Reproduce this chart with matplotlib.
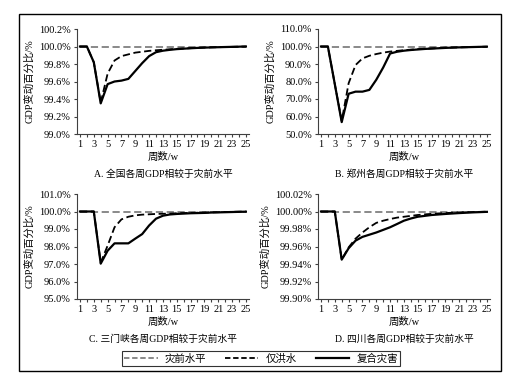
import numpy as np
import matplotlib
matplotlib.use("Agg")
import matplotlib.pyplot as plt
from matplotlib.lines import Line2D
from matplotlib.patches import Rectangle
from matplotlib.ticker import FuncFormatter

plt.rcParams['font.family'] = ['Liberation Serif', 'Noto Sans CJK SC']

weeks = np.arange(1, 26)
baseline = [100.0] * 25

# A. 全国
a_flood = [100, 100, 99.82, 99.36, 99.69, 99.84, 99.89, 99.91, 99.93, 99.94,
           99.95, 99.957, 99.963, 99.968, 99.973, 99.977, 99.981, 99.985, 99.988, 99.99,
           99.992, 99.994, 99.996, 99.998, 100.0]
a_compound = [100, 100, 99.82, 99.35, 99.57, 99.6, 99.61, 99.63, 99.72, 99.81,
              99.89, 99.935, 99.952, 99.962, 99.97, 99.975, 99.98, 99.984, 99.987, 99.99,
              99.992, 99.994, 99.996, 99.998, 100.0]
# B. 郑州
b_flood = [100, 100, 78.5, 57.5, 79.0, 89.4, 93.2, 94.7, 95.7, 96.5,
           97.1, 97.5, 97.9, 98.2, 98.5, 98.7, 98.9, 99.1, 99.3, 99.4,
           99.5, 99.6, 99.7, 99.8, 99.9]
b_compound = [100, 100, 78.5, 56.8, 73.0, 74.2, 74.2, 75.2, 81.0, 88.0,
              96.0, 97.0, 97.6, 98.0, 98.3, 98.6, 98.8, 99.0, 99.2, 99.35,
              99.5, 99.6, 99.7, 99.8, 99.9]
# C. 三门峡
c_flood = [100, 100, 100, 97.08, 98.05, 99.1, 99.55, 99.7, 99.78, 99.82,
           99.84, 99.86, 99.87, 99.88, 99.9, 99.91, 99.92, 99.93, 99.94, 99.95,
           99.96, 99.97, 99.98, 99.99, 100.0]
c_compound = [100, 100, 100, 97.02, 97.76, 98.18, 98.18, 98.18, 98.45, 98.71,
              99.2, 99.59, 99.76, 99.83, 99.86, 99.88, 99.9, 99.91, 99.92, 99.94,
              99.95, 99.96, 99.97, 99.98, 99.99]
# D. 四川
d_flood = [100, 100, 100, 99.945, 99.959, 99.969, 99.976, 99.982, 99.987, 99.9895,
           99.9914, 99.993, 99.994, 99.995, 99.996, 99.9967, 99.9973, 99.9978, 99.9982, 99.9986,
           99.999, 99.9992, 99.9994, 99.9996, 99.9998]
d_compound = [100, 100, 100, 99.945, 99.958, 99.9667, 99.971, 99.9735, 99.976, 99.979,
              99.982, 99.9857, 99.9895, 99.992, 99.994, 99.995, 99.996, 99.9966, 99.9972, 99.9977,
              99.9982, 99.9986, 99.999, 99.9993, 99.9996]

panels = [
    ("A. 全国各周GDP相较于灾前水平", a_flood, a_compound, (99.0, 100.2), 0.2, 1),
    ("B. 郑州各周GDP相较于灾前水平", b_flood, b_compound, (50.0, 110.0), 10.0, 1),
    ("C. 三门峡各周GDP相较于灾前水平", c_flood, c_compound, (95.0, 101.0), 1.0, 1),
    ("D. 四川各周GDP相较于灾前水平", d_flood, d_compound, (99.90, 100.02), 0.02, 2),
]

W, H = 518, 379
fig = plt.figure(figsize=(W / 100, H / 100), dpi=100)

# pixel boxes (left, top, right, bottom)
boxes = [(77, 29, 249, 134), (318, 29, 490, 134),
         (77, 194, 249, 299), (318, 194, 490, 299)]

for (title, flood, comp, ylim, step, dec), (l, t, r, b) in zip(panels, boxes):
    ax = fig.add_axes([l / W, 1 - b / H, (r - l) / W, (b - t) / H])
    ax.plot(weeks, baseline, color='#808080', ls=(0, (4, 2)), lw=1.3)
    ax.plot(weeks, flood, color='black', ls=(0, (4, 2)), lw=1.3)
    ax.plot(weeks, comp, color='black', ls='-', lw=1.6)
    ax.set_xlim(0.57, 25.45)
    ax.set_ylim(*ylim)
    ax.set_yticks(np.arange(ylim[0], ylim[1] + step / 2, step))
    ax.yaxis.set_major_formatter(FuncFormatter(lambda v, p, d=dec: f"{v:.{d}f}%"))
    ax.set_xticks(np.arange(1, 26, 2))
    ax.set_xticks(np.arange(1, 26, 1), minor=True)
    for s in ['top', 'right']:
        ax.spines[s].set_visible(False)
    for s in ['left', 'bottom']:
        ax.spines[s].set_color('#404040')
        ax.spines[s].set_linewidth(0.8)
    ax.tick_params(axis='both', which='both', labelsize=7.5, length=2.5, width=0.8,
                   color='#404040', pad=2)
    ax.set_ylabel("GDP变动百分比/%", fontsize=7.5, labelpad=3)
    ax.set_xlabel("周数/w", fontsize=7.5, labelpad=2)
    ax.text(0.5, -0.38, title, transform=ax.transAxes, ha='center', va='center',
            fontsize=7)

handles = [Line2D([], [], color='#808080', ls=(0, (3, 1.5)), lw=1.3),
           Line2D([], [], color='black', ls=(0, (3, 1.5)), lw=1.3),
           Line2D([], [], color='black', ls='-', lw=1.6)]
leg = fig.legend(handles, ["灾前水平", "仅洪水", "复合灾害"], ncol=3,
                 loc='center', bbox_to_anchor=(261 / W, 1 - 358.5 / H),
                 fontsize=7.5, frameon=True, fancybox=False, edgecolor='black',
                 handlelength=3.2, columnspacing=1.8, borderpad=0.2,
                 handletextpad=0.7, borderaxespad=0)
leg.get_frame().set_linewidth(0.8)

fig.patches.append(Rectangle((19 / W, 1 - 371 / H), (501 - 19) / W, (371 - 14) / H,
                             transform=fig.transFigure, fill=False,
                             edgecolor='black', lw=1.0))

fig.savefig("out.png", dpi=100)
